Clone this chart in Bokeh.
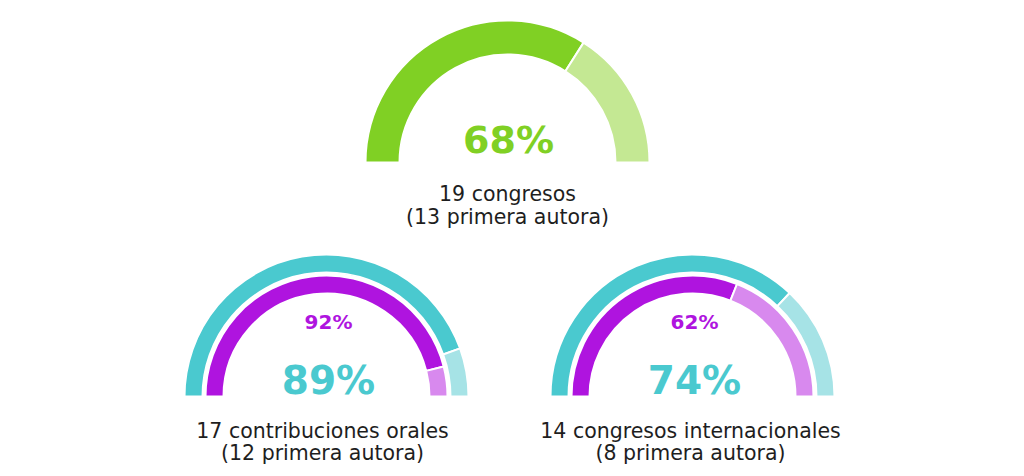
import math
from bokeh.plotting import figure
from bokeh.models import Range1d
from bokeh.core.properties import value
from bokeh.embed import file_html
from bokeh.resources import INLINE

# ---- data ----
gauge_names = ["congresos", "orales", "internacionales"]
outer_pct = [68, 89, 74]          # big number
inner_pct = [None, 92, 62]        # small number (primera autora share)
label_line1 = ["19 congresos", "17 contribuciones orales", "14 congresos internacionales"]
label_line2 = ["(13 primera autora)", "(12 primera autora)", "(8 primera autora)"]

# ---- layout (page pixels) ----
centers = [(507, 162), (326, 396), (692, 396)]
GREEN, GREEN_L = "#80D024", "#C4E893"
TEAL, TEAL_L = "#4AC9CF", "#A6E3E6"
PURP, PURP_L = "#AF14DF", "#D889EE"
FONT = "DejaVu Sans"

W, H = 1016, 468
p = figure(width=W, height=H, output_backend="svg", toolbar_location=None,
           x_range=Range1d(0, W), y_range=Range1d(-H, 0),
           min_border=0, outline_line_color=None)
p.axis.visible = False
p.grid.visible = False
p.background_fill_color = "white"
p.border_fill_color = "white"


def gauge(cx, cy, r_in, r_out, pct, dark, light):
    split = (1 - pct / 100.0) * math.pi
    p.annular_wedge(x=[cx], y=[-cy], inner_radius=r_in, outer_radius=r_out,
                    start_angle=split, end_angle=math.pi,
                    fill_color=dark, line_color="white", line_width=2)
    p.annular_wedge(x=[cx], y=[-cy], inner_radius=r_in, outer_radius=r_out,
                    start_angle=0, end_angle=split,
                    fill_color=light, line_color="white", line_width=2)


# top gauge
cx, cy = centers[0]
gauge(cx, cy, 108, 142, outer_pct[0], GREEN, GREEN_L)
p.text(x=[cx + 1], y=[-139], text=[f"{outer_pct[0]}%"], text_align="center",
       text_baseline="middle", text_font=value(FONT), text_font_style="bold",
       text_font_size="38px", text_color=GREEN)

# bottom gauges
for i in (1, 2):
    cx, cy = centers[i]
    gauge(cx, cy, 124, 142, outer_pct[i], TEAL, TEAL_L)
    gauge(cx, cy, 103, 121, inner_pct[i], PURP, PURP_L)
    p.text(x=[cx + 2], y=[-321], text=[f"{inner_pct[i]}%"], text_align="center",
           text_baseline="middle", text_font=value(FONT), text_font_style="bold",
           text_font_size="20px", text_color=PURP)
    p.text(x=[cx + 2], y=[-380], text=[f"{outer_pct[i]}%"], text_align="center",
           text_baseline="middle", text_font=value(FONT), text_font_style="bold",
           text_font_size="39px", text_color=TEAL)

label_x = [507, 322, 690]
label_y1 = [193, 430, 430]
label_y2 = [216, 452, 452]
for i in range(3):
    p.text(x=[label_x[i]], y=[-label_y1[i]], text=[label_line1[i]], text_align="center",
           text_baseline="middle", text_font=value(FONT), text_font_size="20.5px",
           text_color="#1E1E1E")
    p.text(x=[label_x[i]], y=[-label_y2[i]], text=[label_line2[i]], text_align="center",
           text_baseline="middle", text_font=value(FONT), text_font_size="20.5px",
           text_color="#1E1E1E")

open("out.html", "w").write(file_html(p, INLINE))
